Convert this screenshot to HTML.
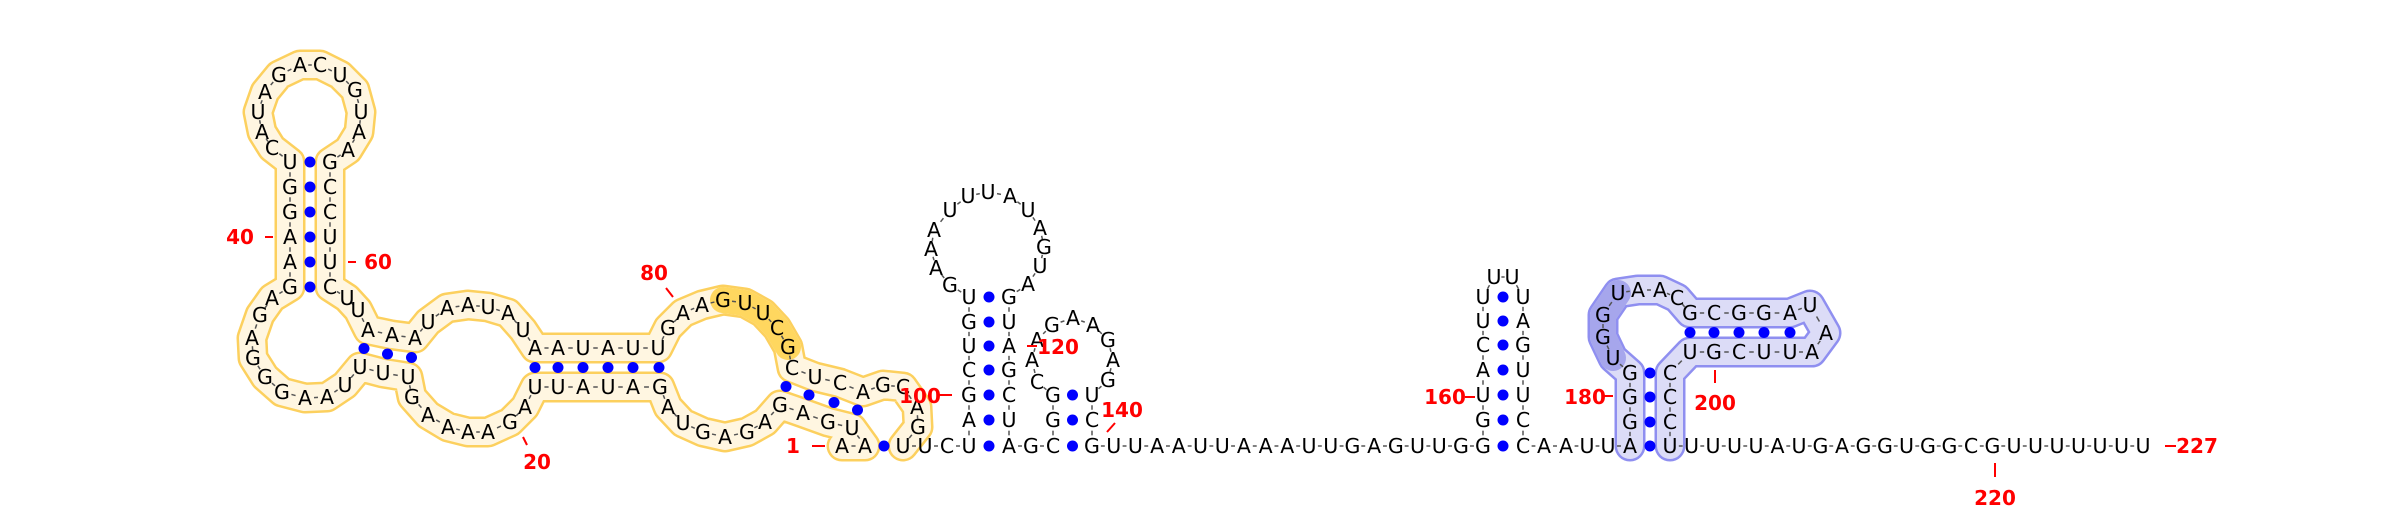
<!DOCTYPE html>
<html><head><meta charset="utf-8"><style>
html,body{margin:0;padding:0;background:#fff;}
svg{display:block;}
.nt{font-family:"DejaVu Sans","Liberation Sans",sans-serif;font-size:20.5px;fill:#000;text-anchor:middle;dominant-baseline:central;}
.lbl{font-family:"DejaVu Sans","Liberation Sans",sans-serif;font-size:20px;font-weight:bold;fill:#f00;text-anchor:middle;dominant-baseline:central;}
</style></head><body>
<svg id="rna" width="2400" height="508" viewBox="0 0 2400 508" xmlns="http://www.w3.org/2000/svg">
<g id="bands"></g>
<g id="backbone"></g>
<g id="pairs"></g>
<g id="nts"></g>
<g id="labels"></g>
</svg>
<script>
const NS="http://www.w3.org/2000/svg";
// sequence layout: [base, x, y] 5'->3'
const nucleotides=[
["A",842,446],["A",865,446],["U",852,428],["G",828,422],["A",803,413],["G",780,405],["A",765,422],["G",747,432],["A",725,437],["G",703,432],
["U",683,423],["A",668,407],["G",660,387],["A",633,387],["U",608,387],["A",583,387],["U",558,387],["U",535,387],["A",525,407],["G",510,422],
["A",488,432],["A",468,432],["A",448,427],["A",428,415],["G",412,397],["U",408,377],["U",383,373],["U",360,367],["U",345,385],["A",327,397],
["A",305,398],["G",282,392],["G",265,377],["G",253,358],["A",252,338],["G",260,315],["A",272,298],["G",290,287],["A",290,262],["A",290,237],
["G",290,212],["G",290,187],["U",290,162],["C",272,148],["A",262,132],["U",258,112],["A",265,92],["G",279,75],["A",300,65],["C",320,65],
["U",340,75],["G",355,90],["U",361,112],["A",359,132],["A",348,150],["G",330,162],["C",330,187],["C",330,212],["U",330,237],["U",330,262],
["C",330,287],["U",347,298],["U",358,310],["A",368,330],["A",392,335],["A",415,338],["U",428,322],["A",447,308],["A",468,305],["U",488,307],
["A",508,313],["U",523,330],["A",535,348],["A",558,348],["U",583,348],["A",608,348],["U",633,348],["U",658,348],["G",668,328],["A",683,313],
["A",702,305],["G",723,300],["U",745,303],["U",763,313],["C",777,328],["G",788,347],["C",792,368],["U",815,377],["C",840,383],["A",863,392],
["G",883,385],["C",903,387],["A",917,407],["G",918,427],["U",903,446],["U",925,446],["C",947,446],["U",969,446],["A",969,420],["G",969,395],
["C",969,370],["U",969,346],["G",969,322],["U",969,297],["G",950,285],["A",936,268],["A",931,249],["A",934,230],["U",950,210],["U",968,196],
["U",988,192],["A",1010,196],["U",1028,210],["A",1040,228],["G",1044,247],["U",1040,266],["A",1028,284],["G",1009,297],["U",1009,322],["A",1009,346],
["G",1009,370],["C",1009,395],["U",1009,420],["A",1009,446],["G",1031,446],["C",1053,446],["G",1053,420],["G",1053,395],["C",1037,382],["A",1032,360],
["A",1037,340],["G",1052,325],["A",1073,318],["A",1093,325],["G",1108,340],["A",1113,360],["G",1108,380],["U",1092,395],["C",1092,420],["G",1092,446]
];
const linker1="UUAAUUAAAUUGAGUUG"; // 141-157 on baseline
const tail1=[
["G",1483,446],["G",1483,420],["U",1483,395],["A",1483,370],["C",1483,345],["U",1483,321],["U",1483,297],["U",1494,277],["U",1512,277],
["U",1523,297],["A",1523,321],["G",1523,345],["U",1523,370],["U",1523,395],["C",1523,420],["C",1523,446],
["A",1544,446],["A",1566,446],["U",1587,446],["U",1608,446],
["A",1630,446],["G",1630,422],["G",1630,397],["G",1630,373],["U",1613,358],["G",1603,337],["G",1603,315],["U",1618,293],["A",1638,290],["A",1660,290],
["C",1677,298],["G",1690,313],["C",1714,313],["G",1739,313],["G",1764,313],["A",1790,313],["U",1810,305],["A",1826,333],["A",1812,352],["U",1790,352],
["U",1764,352],["C",1739,352],["G",1714,352],["U",1690,352],["C",1670,373],["C",1670,397],["C",1670,422],["U",1670,446]
];
const linker2="UUUUAUGAGGUGGCGUUUUUUU"; // 206-227
const pairs=[[2,95],[3,90],[4,89],[5,88],[6,87],[13,78],[14,77],[15,76],[16,75],[17,74],[18,73],
[26,66],[27,65],[28,64],[38,61],[39,60],[40,59],[41,58],[42,57],[43,56],
[98,124],[99,123],[100,122],[101,121],[102,120],[103,119],[104,118],[126,140],[127,139],[128,138],
[158,173],[159,172],[160,171],[161,170],[162,169],[163,168],[164,167],
[178,205],[179,204],[180,203],[181,202],[189,201],[190,200],[191,199],[192,198],[193,197]];
const domains=[{name:"domain-yellow",from:1,to:95,outer:"#fcd05e",inner:"#fff6e1"},{name:"domain-blue",from:178,to:205,outer:"#8f8ff0",inner:"#dcdcf7"}];
const hilites=[{name:"highlight-yellow",from:82,to:86,color:"#ffd75f"},{name:"highlight-blue",from:182,to:185,color:"#a6a6ec"}];
const labelNums=["1","20","40","60","80","100","120","140","160","180","200","220","227"];
// label placement: text x,y and tick x1,y1,x2,y2
const labelGeom=[[793,446,812,446,825,446],[537,462,523,437,527,445],[240,237,265,237,273,237],[378,262,348,262,356,262],
[654,273,666,288,673,297],[920,396,938,395,952,395],[1058,347,1027,346,1037,346],[1122,410,1107,432,1115,423],
[1445,397,1465,397,1475,397],[1585,397,1603,396,1613,396],[1715,403,1715,370,1715,383],[1995,498,1995,463,1995,477],[2197,446,2165,446,2176,446]];

const seq=nucleotides.slice();
for(let k=0;k<linker1.length;k++) seq.push([linker1[k],1092+21.7*(k+1),446]);
tail1.forEach(n=>seq.push(n));
for(let k=0;k<linker2.length;k++) seq.push([linker2[k],1670+21.5*(k+1),446]);
const P=i=>seq[i-1];

function mk(tag,attrs,parent){const e=document.createElementNS(NS,tag);for(const k in attrs)e.setAttribute(k,attrs[k]);parent.appendChild(e);return e;}
const bands=document.getElementById('bands');
function pathPts(a,b){let s="";for(let i=a;i<=b;i++){const p=P(i);s+=(i==a?"M":"L")+p[1]+" "+p[2]+" ";}return s;}
domains.forEach(d=>{
  const o=mk('path',{d:pathPts(d.from,d.to),fill:"none",stroke:d.outer,"stroke-width":31,"stroke-linejoin":"round","stroke-linecap":"round"},bands);
  
  
  const n=mk('path',{d:pathPts(d.from,d.to),fill:"none",stroke:d.inner,"stroke-width":26,"stroke-linejoin":"round","stroke-linecap":"round"},bands);
  
  
});
hilites.forEach(h=>{
  const e=mk('path',{d:pathPts(h.from,h.to),fill:"none",stroke:h.color,"stroke-width":26,"stroke-linejoin":"round","stroke-linecap":"round"},bands);
  
  
});
const bb=document.getElementById('backbone');
for(let i=1;i<seq.length;i++){
  const a=P(i),b=P(i+1);const dx=b[1]-a[1],dy=b[2]-a[2];
  const e=mk('line',{x1:a[1]+dx*0.41,y1:a[2]+dy*0.41,x2:a[1]+dx*0.59,y2:a[2]+dy*0.59,stroke:"#555","stroke-width":1.5},bb);
  
  
}
const pg=document.getElementById('pairs');
pairs.forEach(pr=>{
  const a=P(pr[0]),b=P(pr[1]);
  const e=mk('circle',{cx:(a[1]+b[1])/2,cy:(a[2]+b[2])/2,r:5.5,fill:"#0000ff"},pg);
  
  
});
const ng=document.getElementById('nts');
seq.forEach((n,i)=>{
  const t=mk('text',{x:n[1],y:n[2],class:"nt"},ng);t.textContent=n[0];
  
  
});
const lg=document.getElementById('labels');
labelNums.forEach((s,i)=>{
  const g=labelGeom[i];
  const ln=mk('line',{x1:g[2],y1:g[3],x2:g[4],y2:g[5],stroke:"#f00","stroke-width":2},lg);
  
  
  const t=mk('text',{x:g[0],y:g[1],class:"lbl"},lg);t.textContent=s;
  
  
});
</script>
</body></html>
